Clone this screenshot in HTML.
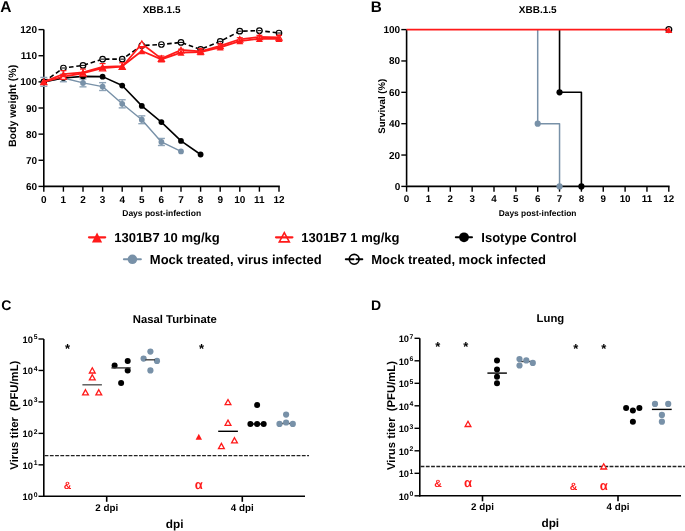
<!DOCTYPE html>
<html><head><meta charset="utf-8"><style>
html,body{margin:0;padding:0;background:#fff;}
body{width:685px;height:531px;overflow:hidden;}
svg{display:block;font-family:"Liberation Sans", sans-serif;will-change:transform;text-rendering:geometricPrecision;}
</style></head><body>
<svg width="685" height="531" viewBox="0 0 685 531">
<rect width="685" height="531" fill="#fff"/>
<text x="0.3" y="11.7" font-size="15.5" text-anchor="start" fill="#000" font-weight="bold" >A</text>
<text x="161.6" y="12.5" font-size="10" text-anchor="middle" fill="#000" font-weight="bold" >XBB.1.5</text>
<line x1="43.8" y1="29.6" x2="43.8" y2="187.15" stroke="#000" stroke-width="1.6" />
<line x1="43" y1="186.4" x2="279.8" y2="186.4" stroke="#000" stroke-width="1.6" />
<line x1="38.5" y1="186.4" x2="43.8" y2="186.4" stroke="#000" stroke-width="1.4" />
<text x="37" y="190" font-size="10" text-anchor="end" fill="#000" font-weight="bold" >60</text>
<line x1="38.5" y1="160.27" x2="43.8" y2="160.27" stroke="#000" stroke-width="1.4" />
<text x="37" y="163.87" font-size="10" text-anchor="end" fill="#000" font-weight="bold" >70</text>
<line x1="38.5" y1="134.13" x2="43.8" y2="134.13" stroke="#000" stroke-width="1.4" />
<text x="37" y="137.73" font-size="10" text-anchor="end" fill="#000" font-weight="bold" >80</text>
<line x1="38.5" y1="108" x2="43.8" y2="108" stroke="#000" stroke-width="1.4" />
<text x="37" y="111.6" font-size="10" text-anchor="end" fill="#000" font-weight="bold" >90</text>
<line x1="38.5" y1="81.87" x2="43.8" y2="81.87" stroke="#000" stroke-width="1.4" />
<text x="37" y="85.47" font-size="10" text-anchor="end" fill="#000" font-weight="bold" >100</text>
<line x1="38.5" y1="55.73" x2="43.8" y2="55.73" stroke="#000" stroke-width="1.4" />
<text x="37" y="59.33" font-size="10" text-anchor="end" fill="#000" font-weight="bold" >110</text>
<line x1="38.5" y1="29.6" x2="43.8" y2="29.6" stroke="#000" stroke-width="1.4" />
<text x="37" y="33.2" font-size="10" text-anchor="end" fill="#000" font-weight="bold" >120</text>
<line x1="43.8" y1="186.4" x2="43.8" y2="191.7" stroke="#000" stroke-width="1.4" />
<text x="43.8" y="202.6" font-size="10" text-anchor="middle" fill="#000" font-weight="bold" >0</text>
<line x1="63.4" y1="186.4" x2="63.4" y2="191.7" stroke="#000" stroke-width="1.4" />
<text x="63.4" y="202.6" font-size="10" text-anchor="middle" fill="#000" font-weight="bold" >1</text>
<line x1="83" y1="186.4" x2="83" y2="191.7" stroke="#000" stroke-width="1.4" />
<text x="83" y="202.6" font-size="10" text-anchor="middle" fill="#000" font-weight="bold" >2</text>
<line x1="102.6" y1="186.4" x2="102.6" y2="191.7" stroke="#000" stroke-width="1.4" />
<text x="102.6" y="202.6" font-size="10" text-anchor="middle" fill="#000" font-weight="bold" >3</text>
<line x1="122.2" y1="186.4" x2="122.2" y2="191.7" stroke="#000" stroke-width="1.4" />
<text x="122.2" y="202.6" font-size="10" text-anchor="middle" fill="#000" font-weight="bold" >4</text>
<line x1="141.8" y1="186.4" x2="141.8" y2="191.7" stroke="#000" stroke-width="1.4" />
<text x="141.8" y="202.6" font-size="10" text-anchor="middle" fill="#000" font-weight="bold" >5</text>
<line x1="161.4" y1="186.4" x2="161.4" y2="191.7" stroke="#000" stroke-width="1.4" />
<text x="161.4" y="202.6" font-size="10" text-anchor="middle" fill="#000" font-weight="bold" >6</text>
<line x1="181" y1="186.4" x2="181" y2="191.7" stroke="#000" stroke-width="1.4" />
<text x="181" y="202.6" font-size="10" text-anchor="middle" fill="#000" font-weight="bold" >7</text>
<line x1="200.6" y1="186.4" x2="200.6" y2="191.7" stroke="#000" stroke-width="1.4" />
<text x="200.6" y="202.6" font-size="10" text-anchor="middle" fill="#000" font-weight="bold" >8</text>
<line x1="220.2" y1="186.4" x2="220.2" y2="191.7" stroke="#000" stroke-width="1.4" />
<text x="220.2" y="202.6" font-size="10" text-anchor="middle" fill="#000" font-weight="bold" >9</text>
<line x1="239.8" y1="186.4" x2="239.8" y2="191.7" stroke="#000" stroke-width="1.4" />
<text x="239.8" y="202.6" font-size="10" text-anchor="middle" fill="#000" font-weight="bold" >10</text>
<line x1="259.4" y1="186.4" x2="259.4" y2="191.7" stroke="#000" stroke-width="1.4" />
<text x="259.4" y="202.6" font-size="10" text-anchor="middle" fill="#000" font-weight="bold" >11</text>
<line x1="279" y1="186.4" x2="279" y2="191.7" stroke="#000" stroke-width="1.4" />
<text x="279" y="202.6" font-size="10" text-anchor="middle" fill="#000" font-weight="bold" >12</text>
<text x="161.7" y="215.7" font-size="8.5" text-anchor="middle" fill="#000" font-weight="bold" >Days post-infection</text>
<text transform="translate(15.8,105.9) rotate(-90)" font-size="10.6" text-anchor="middle" font-weight="bold">Body weight (%)</text>
<line x1="43.8" y1="77.43" x2="43.8" y2="86.31" stroke="#8ea4b8" stroke-width="1.4" />
<line x1="40.3" y1="77.43" x2="47.3" y2="77.43" stroke="#8ea4b8" stroke-width="1.4" />
<line x1="40.3" y1="86.31" x2="47.3" y2="86.31" stroke="#8ea4b8" stroke-width="1.4" />
<line x1="63.4" y1="74.16" x2="63.4" y2="81.74" stroke="#8ea4b8" stroke-width="1.4" />
<line x1="59.9" y1="74.16" x2="66.9" y2="74.16" stroke="#8ea4b8" stroke-width="1.4" />
<line x1="59.9" y1="81.74" x2="66.9" y2="81.74" stroke="#8ea4b8" stroke-width="1.4" />
<line x1="83" y1="78.99" x2="83" y2="86.83" stroke="#8ea4b8" stroke-width="1.4" />
<line x1="79.5" y1="78.99" x2="86.5" y2="78.99" stroke="#8ea4b8" stroke-width="1.4" />
<line x1="79.5" y1="86.83" x2="86.5" y2="86.83" stroke="#8ea4b8" stroke-width="1.4" />
<line x1="102.6" y1="82.65" x2="102.6" y2="90.49" stroke="#8ea4b8" stroke-width="1.4" />
<line x1="99.1" y1="82.65" x2="106.1" y2="82.65" stroke="#8ea4b8" stroke-width="1.4" />
<line x1="99.1" y1="90.49" x2="106.1" y2="90.49" stroke="#8ea4b8" stroke-width="1.4" />
<line x1="122.2" y1="99.77" x2="122.2" y2="107.87" stroke="#8ea4b8" stroke-width="1.4" />
<line x1="118.7" y1="99.77" x2="125.7" y2="99.77" stroke="#8ea4b8" stroke-width="1.4" />
<line x1="118.7" y1="107.87" x2="125.7" y2="107.87" stroke="#8ea4b8" stroke-width="1.4" />
<line x1="141.8" y1="115.84" x2="141.8" y2="123.68" stroke="#8ea4b8" stroke-width="1.4" />
<line x1="138.3" y1="115.84" x2="145.3" y2="115.84" stroke="#8ea4b8" stroke-width="1.4" />
<line x1="138.3" y1="123.68" x2="145.3" y2="123.68" stroke="#8ea4b8" stroke-width="1.4" />
<line x1="161.4" y1="138.45" x2="161.4" y2="145.5" stroke="#8ea4b8" stroke-width="1.4" />
<line x1="157.9" y1="138.45" x2="164.9" y2="138.45" stroke="#8ea4b8" stroke-width="1.4" />
<line x1="157.9" y1="145.5" x2="164.9" y2="145.5" stroke="#8ea4b8" stroke-width="1.4" />
<polyline points="43.8,81.87 63.4,77.95 83,82.91 102.6,86.57 122.2,103.82 141.8,119.76 161.4,141.97 181,151.38" stroke="#7891a8" stroke-width="1.4" fill="none" stroke-linejoin="round" />
<circle cx="43.8" cy="81.87" r="2.9" fill="#7891a8" stroke="none" stroke-width="0"/>
<circle cx="63.4" cy="77.95" r="2.9" fill="#7891a8" stroke="none" stroke-width="0"/>
<circle cx="83" cy="82.91" r="2.9" fill="#7891a8" stroke="none" stroke-width="0"/>
<circle cx="102.6" cy="86.57" r="2.9" fill="#7891a8" stroke="none" stroke-width="0"/>
<circle cx="122.2" cy="103.82" r="2.9" fill="#7891a8" stroke="none" stroke-width="0"/>
<circle cx="141.8" cy="119.76" r="2.9" fill="#7891a8" stroke="none" stroke-width="0"/>
<circle cx="161.4" cy="141.97" r="2.9" fill="#7891a8" stroke="none" stroke-width="0"/>
<circle cx="181" cy="151.38" r="2.9" fill="#7891a8" stroke="none" stroke-width="0"/>
<polyline points="43.8,81.87 63.4,77.95 83,76.38 102.6,76.64 122.2,85.53 141.8,105.91 161.4,122.11 181,140.93 200.6,154.52" stroke="#000" stroke-width="1.6" fill="none" stroke-linejoin="round" />
<circle cx="43.8" cy="81.87" r="2.9" fill="#000" stroke="none" stroke-width="0"/>
<circle cx="63.4" cy="77.95" r="2.9" fill="#000" stroke="none" stroke-width="0"/>
<circle cx="83" cy="76.38" r="2.9" fill="#000" stroke="none" stroke-width="0"/>
<circle cx="102.6" cy="76.64" r="2.9" fill="#000" stroke="none" stroke-width="0"/>
<circle cx="122.2" cy="85.53" r="2.9" fill="#000" stroke="none" stroke-width="0"/>
<circle cx="141.8" cy="105.91" r="2.9" fill="#000" stroke="none" stroke-width="0"/>
<circle cx="161.4" cy="122.11" r="2.9" fill="#000" stroke="none" stroke-width="0"/>
<circle cx="181" cy="140.93" r="2.9" fill="#000" stroke="none" stroke-width="0"/>
<circle cx="200.6" cy="154.52" r="2.9" fill="#000" stroke="none" stroke-width="0"/>
<polyline points="43.8,81.87 63.4,68.02 83,65.4 102.6,59.13 122.2,59.13 141.8,45.54 161.4,44.5 181,42.41 200.6,49.46 220.2,41.36 239.8,31.17 259.4,30.65 279,33" stroke="#000" stroke-width="1.6" fill="none" stroke-linejoin="round" stroke-dasharray="4.6 2.8"/>
<circle cx="43.8" cy="81.87" r="2.75" fill="#fff" stroke="#000" stroke-width="1.2"/>
<circle cx="63.4" cy="68.02" r="2.75" fill="#fff" stroke="#000" stroke-width="1.2"/>
<circle cx="83" cy="65.4" r="2.75" fill="#fff" stroke="#000" stroke-width="1.2"/>
<circle cx="102.6" cy="59.13" r="2.75" fill="#fff" stroke="#000" stroke-width="1.2"/>
<circle cx="122.2" cy="59.13" r="2.75" fill="#fff" stroke="#000" stroke-width="1.2"/>
<circle cx="141.8" cy="45.54" r="2.75" fill="#fff" stroke="#000" stroke-width="1.2"/>
<circle cx="161.4" cy="44.5" r="2.75" fill="#fff" stroke="#000" stroke-width="1.2"/>
<circle cx="181" cy="42.41" r="2.75" fill="#fff" stroke="#000" stroke-width="1.2"/>
<circle cx="200.6" cy="49.46" r="2.75" fill="#fff" stroke="#000" stroke-width="1.2"/>
<circle cx="220.2" cy="41.36" r="2.75" fill="#fff" stroke="#000" stroke-width="1.2"/>
<circle cx="239.8" cy="31.17" r="2.75" fill="#fff" stroke="#000" stroke-width="1.2"/>
<circle cx="259.4" cy="30.65" r="2.75" fill="#fff" stroke="#000" stroke-width="1.2"/>
<circle cx="279" cy="33" r="2.75" fill="#fff" stroke="#000" stroke-width="1.2"/>
<line x1="41.8" y1="81.87" x2="45.8" y2="81.87" stroke="#000" stroke-width="1.0" />
<line x1="61.4" y1="68.02" x2="65.4" y2="68.02" stroke="#000" stroke-width="1.0" />
<line x1="81" y1="65.4" x2="85" y2="65.4" stroke="#000" stroke-width="1.0" />
<line x1="100.6" y1="59.13" x2="104.6" y2="59.13" stroke="#000" stroke-width="1.0" />
<line x1="120.2" y1="59.13" x2="124.2" y2="59.13" stroke="#000" stroke-width="1.0" />
<line x1="139.8" y1="45.54" x2="143.8" y2="45.54" stroke="#000" stroke-width="1.0" />
<line x1="159.4" y1="44.5" x2="163.4" y2="44.5" stroke="#000" stroke-width="1.0" />
<line x1="179" y1="42.41" x2="183" y2="42.41" stroke="#000" stroke-width="1.0" />
<line x1="198.6" y1="49.46" x2="202.6" y2="49.46" stroke="#000" stroke-width="1.0" />
<line x1="218.2" y1="41.36" x2="222.2" y2="41.36" stroke="#000" stroke-width="1.0" />
<line x1="237.8" y1="31.17" x2="241.8" y2="31.17" stroke="#000" stroke-width="1.0" />
<line x1="257.4" y1="30.65" x2="261.4" y2="30.65" stroke="#000" stroke-width="1.0" />
<line x1="277" y1="33" x2="281" y2="33" stroke="#000" stroke-width="1.0" />
<polyline points="43.8,81.87 63.4,76.64 83,73.24 102.6,68.02 122.2,66.71 141.8,43.71 161.4,58.61 181,49.99 200.6,51.29 220.2,45.8 239.8,39.27 259.4,36.92 279,37.44" stroke="#ff1a1a" stroke-width="1.8" fill="none" stroke-linejoin="round" />
<polygon points="43.8,79.07 46.9,84.67 40.7,84.67" fill="#fff" stroke="#ff1a1a" stroke-width="1.2" stroke-linejoin="miter"/>
<polygon points="63.4,73.84 66.5,79.44 60.3,79.44" fill="#fff" stroke="#ff1a1a" stroke-width="1.2" stroke-linejoin="miter"/>
<polygon points="83,70.44 86.1,76.04 79.9,76.04" fill="#fff" stroke="#ff1a1a" stroke-width="1.2" stroke-linejoin="miter"/>
<polygon points="102.6,65.22 105.7,70.82 99.5,70.82" fill="#fff" stroke="#ff1a1a" stroke-width="1.2" stroke-linejoin="miter"/>
<polygon points="122.2,63.91 125.3,69.51 119.1,69.51" fill="#fff" stroke="#ff1a1a" stroke-width="1.2" stroke-linejoin="miter"/>
<polygon points="141.8,40.91 144.9,46.51 138.7,46.51" fill="#fff" stroke="#ff1a1a" stroke-width="1.2" stroke-linejoin="miter"/>
<polygon points="161.4,55.81 164.5,61.41 158.3,61.41" fill="#fff" stroke="#ff1a1a" stroke-width="1.2" stroke-linejoin="miter"/>
<polygon points="181,47.19 184.1,52.79 177.9,52.79" fill="#fff" stroke="#ff1a1a" stroke-width="1.2" stroke-linejoin="miter"/>
<polygon points="200.6,48.49 203.7,54.09 197.5,54.09" fill="#fff" stroke="#ff1a1a" stroke-width="1.2" stroke-linejoin="miter"/>
<polygon points="220.2,43 223.3,48.6 217.1,48.6" fill="#fff" stroke="#ff1a1a" stroke-width="1.2" stroke-linejoin="miter"/>
<polygon points="239.8,36.47 242.9,42.07 236.7,42.07" fill="#fff" stroke="#ff1a1a" stroke-width="1.2" stroke-linejoin="miter"/>
<polygon points="259.4,34.12 262.5,39.72 256.3,39.72" fill="#fff" stroke="#ff1a1a" stroke-width="1.2" stroke-linejoin="miter"/>
<polygon points="279,34.64 282.1,40.24 275.9,40.24" fill="#fff" stroke="#ff1a1a" stroke-width="1.2" stroke-linejoin="miter"/>
<line x1="60.4" y1="70.63" x2="66.4" y2="70.63" stroke="#ff1a1a" stroke-width="1.2" />
<line x1="63.4" y1="70.63" x2="63.4" y2="74.03" stroke="#ff1a1a" stroke-width="1.2" />
<line x1="80" y1="69.06" x2="86" y2="69.06" stroke="#ff1a1a" stroke-width="1.2" />
<line x1="83" y1="69.06" x2="83" y2="72.46" stroke="#ff1a1a" stroke-width="1.2" />
<line x1="99.6" y1="63.57" x2="105.6" y2="63.57" stroke="#ff1a1a" stroke-width="1.2" />
<line x1="102.6" y1="63.57" x2="102.6" y2="66.97" stroke="#ff1a1a" stroke-width="1.2" />
<line x1="119.2" y1="62.79" x2="125.2" y2="62.79" stroke="#ff1a1a" stroke-width="1.2" />
<line x1="122.2" y1="62.79" x2="122.2" y2="66.19" stroke="#ff1a1a" stroke-width="1.2" />
<line x1="138.8" y1="47.63" x2="144.8" y2="47.63" stroke="#ff1a1a" stroke-width="1.2" />
<line x1="141.8" y1="47.63" x2="141.8" y2="51.03" stroke="#ff1a1a" stroke-width="1.2" />
<line x1="158.4" y1="56" x2="164.4" y2="56" stroke="#ff1a1a" stroke-width="1.2" />
<line x1="161.4" y1="56" x2="161.4" y2="59.39" stroke="#ff1a1a" stroke-width="1.2" />
<line x1="178" y1="49.2" x2="184" y2="49.2" stroke="#ff1a1a" stroke-width="1.2" />
<line x1="181" y1="49.2" x2="181" y2="52.6" stroke="#ff1a1a" stroke-width="1.2" />
<line x1="197.6" y1="48.68" x2="203.6" y2="48.68" stroke="#ff1a1a" stroke-width="1.2" />
<line x1="200.6" y1="48.68" x2="200.6" y2="52.08" stroke="#ff1a1a" stroke-width="1.2" />
<line x1="217.2" y1="43.98" x2="223.2" y2="43.98" stroke="#ff1a1a" stroke-width="1.2" />
<line x1="220.2" y1="43.98" x2="220.2" y2="47.37" stroke="#ff1a1a" stroke-width="1.2" />
<line x1="236.8" y1="37.7" x2="242.8" y2="37.7" stroke="#ff1a1a" stroke-width="1.2" />
<line x1="239.8" y1="37.7" x2="239.8" y2="41.1" stroke="#ff1a1a" stroke-width="1.2" />
<line x1="256.4" y1="35.35" x2="262.4" y2="35.35" stroke="#ff1a1a" stroke-width="1.2" />
<line x1="259.4" y1="35.35" x2="259.4" y2="38.75" stroke="#ff1a1a" stroke-width="1.2" />
<line x1="276" y1="35.35" x2="282" y2="35.35" stroke="#ff1a1a" stroke-width="1.2" />
<line x1="279" y1="35.35" x2="279" y2="38.75" stroke="#ff1a1a" stroke-width="1.2" />
<polyline points="43.8,81.87 63.4,74.03 83,72.46 102.6,66.97 122.2,66.19 141.8,51.03 161.4,59.39 181,52.6 200.6,52.08 220.2,47.37 239.8,41.1 259.4,38.75 279,38.75" stroke="#ff1a1a" stroke-width="1.8" fill="none" stroke-linejoin="round" />
<polygon points="43.8,78.67 47.3,85.07 40.3,85.07" fill="#ff1a1a" stroke="none" stroke-width="0" stroke-linejoin="miter"/>
<polygon points="63.4,70.83 66.9,77.23 59.9,77.23" fill="#ff1a1a" stroke="none" stroke-width="0" stroke-linejoin="miter"/>
<polygon points="83,69.26 86.5,75.66 79.5,75.66" fill="#ff1a1a" stroke="none" stroke-width="0" stroke-linejoin="miter"/>
<polygon points="102.6,63.77 106.1,70.17 99.1,70.17" fill="#ff1a1a" stroke="none" stroke-width="0" stroke-linejoin="miter"/>
<polygon points="122.2,62.99 125.7,69.39 118.7,69.39" fill="#ff1a1a" stroke="none" stroke-width="0" stroke-linejoin="miter"/>
<polygon points="141.8,47.83 145.3,54.23 138.3,54.23" fill="#ff1a1a" stroke="none" stroke-width="0" stroke-linejoin="miter"/>
<polygon points="161.4,56.19 164.9,62.59 157.9,62.59" fill="#ff1a1a" stroke="none" stroke-width="0" stroke-linejoin="miter"/>
<polygon points="181,49.4 184.5,55.8 177.5,55.8" fill="#ff1a1a" stroke="none" stroke-width="0" stroke-linejoin="miter"/>
<polygon points="200.6,48.88 204.1,55.28 197.1,55.28" fill="#ff1a1a" stroke="none" stroke-width="0" stroke-linejoin="miter"/>
<polygon points="220.2,44.17 223.7,50.57 216.7,50.57" fill="#ff1a1a" stroke="none" stroke-width="0" stroke-linejoin="miter"/>
<polygon points="239.8,37.9 243.3,44.3 236.3,44.3" fill="#ff1a1a" stroke="none" stroke-width="0" stroke-linejoin="miter"/>
<polygon points="259.4,35.55 262.9,41.95 255.9,41.95" fill="#ff1a1a" stroke="none" stroke-width="0" stroke-linejoin="miter"/>
<polygon points="279,35.55 282.5,41.95 275.5,41.95" fill="#ff1a1a" stroke="none" stroke-width="0" stroke-linejoin="miter"/>
<text x="370.7" y="11.6" font-size="15.3" text-anchor="start" fill="#000" font-weight="bold" >B</text>
<text x="537.7" y="12.5" font-size="10" text-anchor="middle" fill="#000" font-weight="bold" >XBB.1.5</text>
<polyline points="537.7,29.6 537.7,123.68 559.55,123.68 559.55,186.4" stroke="#7891a8" stroke-width="1.5" fill="none" stroke-linejoin="round" stroke-linejoin="miter"/>
<polyline points="559.55,29.6 559.55,92.32 581.4,92.32 581.4,186.4" stroke="#000" stroke-width="1.6" fill="none" stroke-linejoin="round" stroke-linejoin="miter"/>
<line x1="406.6" y1="185.65" x2="406.6" y2="29.6" stroke="#000" stroke-width="1.6" />
<line x1="405.8" y1="186.4" x2="669.6" y2="186.4" stroke="#000" stroke-width="1.6" />
<line x1="401.3" y1="186.4" x2="406.6" y2="186.4" stroke="#000" stroke-width="1.4" />
<text x="400.2" y="189.9" font-size="10" text-anchor="end" fill="#000" font-weight="bold" >0</text>
<line x1="401.3" y1="155.04" x2="406.6" y2="155.04" stroke="#000" stroke-width="1.4" />
<text x="400.2" y="158.54" font-size="10" text-anchor="end" fill="#000" font-weight="bold" >20</text>
<line x1="401.3" y1="123.68" x2="406.6" y2="123.68" stroke="#000" stroke-width="1.4" />
<text x="400.2" y="127.18" font-size="10" text-anchor="end" fill="#000" font-weight="bold" >40</text>
<line x1="401.3" y1="92.32" x2="406.6" y2="92.32" stroke="#000" stroke-width="1.4" />
<text x="400.2" y="95.82" font-size="10" text-anchor="end" fill="#000" font-weight="bold" >60</text>
<line x1="401.3" y1="60.96" x2="406.6" y2="60.96" stroke="#000" stroke-width="1.4" />
<text x="400.2" y="64.46" font-size="10" text-anchor="end" fill="#000" font-weight="bold" >80</text>
<line x1="401.3" y1="29.6" x2="406.6" y2="29.6" stroke="#000" stroke-width="1.4" />
<text x="400.2" y="33.1" font-size="10" text-anchor="end" fill="#000" font-weight="bold" >100</text>
<line x1="406.6" y1="186.4" x2="406.6" y2="191.7" stroke="#000" stroke-width="1.4" />
<text x="406.6" y="201.7" font-size="9.8" text-anchor="middle" fill="#000" font-weight="bold" >0</text>
<line x1="428.45" y1="186.4" x2="428.45" y2="191.7" stroke="#000" stroke-width="1.4" />
<text x="428.45" y="201.7" font-size="9.8" text-anchor="middle" fill="#000" font-weight="bold" >1</text>
<line x1="450.3" y1="186.4" x2="450.3" y2="191.7" stroke="#000" stroke-width="1.4" />
<text x="450.3" y="201.7" font-size="9.8" text-anchor="middle" fill="#000" font-weight="bold" >2</text>
<line x1="472.15" y1="186.4" x2="472.15" y2="191.7" stroke="#000" stroke-width="1.4" />
<text x="472.15" y="201.7" font-size="9.8" text-anchor="middle" fill="#000" font-weight="bold" >3</text>
<line x1="494" y1="186.4" x2="494" y2="191.7" stroke="#000" stroke-width="1.4" />
<text x="494" y="201.7" font-size="9.8" text-anchor="middle" fill="#000" font-weight="bold" >4</text>
<line x1="515.85" y1="186.4" x2="515.85" y2="191.7" stroke="#000" stroke-width="1.4" />
<text x="515.85" y="201.7" font-size="9.8" text-anchor="middle" fill="#000" font-weight="bold" >5</text>
<line x1="537.7" y1="186.4" x2="537.7" y2="191.7" stroke="#000" stroke-width="1.4" />
<text x="537.7" y="201.7" font-size="9.8" text-anchor="middle" fill="#000" font-weight="bold" >6</text>
<line x1="559.55" y1="186.4" x2="559.55" y2="191.7" stroke="#000" stroke-width="1.4" />
<text x="559.55" y="201.7" font-size="9.8" text-anchor="middle" fill="#000" font-weight="bold" >7</text>
<line x1="581.4" y1="186.4" x2="581.4" y2="191.7" stroke="#000" stroke-width="1.4" />
<text x="581.4" y="201.7" font-size="9.8" text-anchor="middle" fill="#000" font-weight="bold" >8</text>
<line x1="603.25" y1="186.4" x2="603.25" y2="191.7" stroke="#000" stroke-width="1.4" />
<text x="603.25" y="201.7" font-size="9.8" text-anchor="middle" fill="#000" font-weight="bold" >9</text>
<line x1="625.1" y1="186.4" x2="625.1" y2="191.7" stroke="#000" stroke-width="1.4" />
<text x="625.1" y="201.7" font-size="9.8" text-anchor="middle" fill="#000" font-weight="bold" >10</text>
<line x1="646.95" y1="186.4" x2="646.95" y2="191.7" stroke="#000" stroke-width="1.4" />
<text x="646.95" y="201.7" font-size="9.8" text-anchor="middle" fill="#000" font-weight="bold" >11</text>
<line x1="668.8" y1="186.4" x2="668.8" y2="191.7" stroke="#000" stroke-width="1.4" />
<text x="668.8" y="201.7" font-size="9.8" text-anchor="middle" fill="#000" font-weight="bold" >12</text>
<text x="537.6" y="215.5" font-size="8.4" text-anchor="middle" fill="#000" font-weight="bold" >Days post-infection</text>
<text transform="translate(385.2,106.3) rotate(-90)" font-size="9.6" text-anchor="middle" font-weight="bold">Survival (%)</text>
<circle cx="537.7" cy="123.68" r="3.1" fill="#7891a8" stroke="none" stroke-width="0"/>
<circle cx="559.55" cy="186.4" r="3.1" fill="#7891a8" stroke="none" stroke-width="0"/>
<circle cx="559.55" cy="92.32" r="3.1" fill="#000" stroke="none" stroke-width="0"/>
<circle cx="581.4" cy="186.4" r="3.1" fill="#000" stroke="none" stroke-width="0"/>
<circle cx="668.8" cy="29.6" r="2.9" fill="#fff" stroke="#000" stroke-width="1.3"/>
<line x1="406.6" y1="29.6" x2="668.8" y2="29.6" stroke="#ff1a1a" stroke-width="1.6" />
<polygon points="668.8,27.1 672.4,33.1 665.2,33.1" fill="#ff1a1a" stroke="none" stroke-width="0" stroke-linejoin="miter"/>
<line x1="89" y1="237.3" x2="105.2" y2="237.3" stroke="#ff1a1a" stroke-width="2.2" stroke-linecap="round" />
<polygon points="97.05,232.6 102.15,242.6 91.95,242.6" fill="#ff1a1a" stroke="none" stroke-width="0" stroke-linejoin="miter"/>
<text x="114.2" y="242.3" font-size="13" text-anchor="start" fill="#000" font-weight="bold" >1301B7 10 mg/kg</text>
<line x1="276" y1="237.3" x2="292.4" y2="237.3" stroke="#ff1a1a" stroke-width="2.2" stroke-linecap="round" />
<polygon points="284.3,232.7 289.3,241.9 279.3,241.9" fill="none" stroke="#ff1a1a" stroke-width="1.6" stroke-linejoin="miter"/>
<text x="301.2" y="242.3" font-size="13" text-anchor="start" fill="#000" font-weight="bold" >1301B7 1 mg/kg</text>
<line x1="455.8" y1="237.3" x2="472" y2="237.3" stroke="#000" stroke-width="2.0" stroke-linecap="round" />
<circle cx="464" cy="237.3" r="4.9" fill="#000" stroke="none" stroke-width="0"/>
<text x="481.3" y="242.3" font-size="13" text-anchor="start" fill="#000" font-weight="bold" >Isotype Control</text>
<line x1="123.9" y1="259.3" x2="140.9" y2="259.3" stroke="#7891a8" stroke-width="2.0" stroke-linecap="round" />
<circle cx="132.4" cy="259.3" r="4.8" fill="#7891a8" stroke="none" stroke-width="0"/>
<text x="149.8" y="263.6" font-size="13" text-anchor="start" fill="#000" font-weight="bold" >Mock treated, virus infected</text>
<line x1="345.8" y1="259.3" x2="353.5" y2="259.3" stroke="#000" stroke-width="2.0" stroke-linecap="round" />
<line x1="356.5" y1="259.3" x2="362.3" y2="259.3" stroke="#000" stroke-width="2.0" stroke-linecap="round" />
<circle cx="354.2" cy="259.3" r="4.9" fill="none" stroke="#000" stroke-width="1.6"/>
<text x="371.2" y="263.6" font-size="13" text-anchor="start" fill="#000" font-weight="bold" >Mock treated, mock infected</text>
<text x="1.3" y="309.6" font-size="14" text-anchor="start" fill="#000" font-weight="bold" >C</text>
<text x="174.8" y="322.9" font-size="11.3" text-anchor="middle" fill="#000" font-weight="bold" >Nasal Turbinate</text>
<line x1="43.8" y1="339" x2="43.8" y2="497.05" stroke="#000" stroke-width="1.6" />
<line x1="43" y1="496.3" x2="305" y2="496.3" stroke="#000" stroke-width="1.6" />
<line x1="38.5" y1="496.3" x2="43.8" y2="496.3" stroke="#000" stroke-width="1.4" />
<text x="32.9" y="500.25" font-size="9.3" text-anchor="end" font-weight="bold">10</text>
<text x="33.8" y="496.6" font-size="6.8" text-anchor="start" font-weight="bold">0</text>
<line x1="38.5" y1="464.84" x2="43.8" y2="464.84" stroke="#000" stroke-width="1.4" />
<text x="32.9" y="468.79" font-size="9.3" text-anchor="end" font-weight="bold">10</text>
<text x="33.8" y="465.14" font-size="6.8" text-anchor="start" font-weight="bold">1</text>
<line x1="38.5" y1="433.38" x2="43.8" y2="433.38" stroke="#000" stroke-width="1.4" />
<text x="32.9" y="437.33" font-size="9.3" text-anchor="end" font-weight="bold">10</text>
<text x="33.8" y="433.68" font-size="6.8" text-anchor="start" font-weight="bold">2</text>
<line x1="38.5" y1="401.92" x2="43.8" y2="401.92" stroke="#000" stroke-width="1.4" />
<text x="32.9" y="405.87" font-size="9.3" text-anchor="end" font-weight="bold">10</text>
<text x="33.8" y="402.22" font-size="6.8" text-anchor="start" font-weight="bold">3</text>
<line x1="38.5" y1="370.46" x2="43.8" y2="370.46" stroke="#000" stroke-width="1.4" />
<text x="32.9" y="374.41" font-size="9.3" text-anchor="end" font-weight="bold">10</text>
<text x="33.8" y="370.76" font-size="6.8" text-anchor="start" font-weight="bold">4</text>
<line x1="38.5" y1="339" x2="43.8" y2="339" stroke="#000" stroke-width="1.4" />
<text x="32.9" y="342.95" font-size="9.3" text-anchor="end" font-weight="bold">10</text>
<text x="33.8" y="339.3" font-size="6.8" text-anchor="start" font-weight="bold">5</text>
<line x1="106.7" y1="496.3" x2="106.7" y2="501.8" stroke="#000" stroke-width="1.6" />
<text x="106.7" y="510.9" font-size="9.8" text-anchor="middle" fill="#000" font-weight="bold" >2 dpi</text>
<line x1="242.3" y1="496.3" x2="242.3" y2="501.8" stroke="#000" stroke-width="1.6" />
<text x="242.3" y="510.9" font-size="9.8" text-anchor="middle" fill="#000" font-weight="bold" >4 dpi</text>
<text x="174.7" y="528" font-size="11.8" text-anchor="middle" fill="#000" font-weight="bold" >dpi</text>
<text transform="translate(18.4,415.2) rotate(-90)" font-size="11.3" text-anchor="middle" font-weight="bold" xml:space="preserve">Virus titer  (PFU/mL)</text>
<line x1="44.6" y1="455.6" x2="309" y2="455.6" stroke="#222" stroke-width="1.3" stroke-dasharray="3.8 1.45"/>
<text x="67.6" y="353.3" font-size="13" text-anchor="middle" font-weight="bold">*</text>
<line x1="82.4" y1="384.8" x2="101.9" y2="384.8" stroke="#555" stroke-width="1.4" />
<polygon points="92.3,367.8 95.2,373 89.4,373" fill="#fff" stroke="#ff1a1a" stroke-width="1.3" stroke-linejoin="miter"/>
<polygon points="92.3,374.7 95.2,379.9 89.4,379.9" fill="#fff" stroke="#ff1a1a" stroke-width="1.3" stroke-linejoin="miter"/>
<polygon points="85.5,389.7 88.4,394.9 82.6,394.9" fill="#fff" stroke="#ff1a1a" stroke-width="1.3" stroke-linejoin="miter"/>
<polygon points="98.8,389.7 101.7,394.9 95.9,394.9" fill="#fff" stroke="#ff1a1a" stroke-width="1.3" stroke-linejoin="miter"/>
<circle cx="114.6" cy="365.5" r="3" fill="#000" stroke="none" stroke-width="0"/>
<circle cx="127.7" cy="361.1" r="3" fill="#000" stroke="none" stroke-width="0"/>
<circle cx="127.7" cy="370.4" r="3" fill="#000" stroke="none" stroke-width="0"/>
<circle cx="121.1" cy="383" r="3" fill="#000" stroke="none" stroke-width="0"/>
<line x1="111.4" y1="367.9" x2="130.7" y2="367.9" stroke="#333" stroke-width="1.4" />
<circle cx="150.4" cy="351.6" r="3.1" fill="#7891a8" stroke="none" stroke-width="0"/>
<circle cx="143.6" cy="358.6" r="3.1" fill="#7891a8" stroke="none" stroke-width="0"/>
<circle cx="157" cy="360.9" r="3.1" fill="#7891a8" stroke="none" stroke-width="0"/>
<circle cx="150.4" cy="370.4" r="3.1" fill="#7891a8" stroke="none" stroke-width="0"/>
<line x1="145.3" y1="359.8" x2="155" y2="359.8" stroke="#444" stroke-width="1.4" />
<text x="67.6" y="489.2" font-size="10.5" text-anchor="middle" font-weight="bold" fill="#ff1a1a">&amp;</text>
<text x="201.6" y="353.3" font-size="13" text-anchor="middle" font-weight="bold">*</text>
<polygon points="198.8,433.8 202,439.8 195.6,439.8" fill="#ff1a1a" stroke="none" stroke-width="0" stroke-linejoin="miter"/>
<polygon points="228,399.5 230.9,404.7 225.1,404.7" fill="#fff" stroke="#ff1a1a" stroke-width="1.3" stroke-linejoin="miter"/>
<polygon points="228,420.1 230.9,425.3 225.1,425.3" fill="#fff" stroke="#ff1a1a" stroke-width="1.3" stroke-linejoin="miter"/>
<polygon points="234.5,437.7 237.4,442.9 231.6,442.9" fill="#fff" stroke="#ff1a1a" stroke-width="1.3" stroke-linejoin="miter"/>
<polygon points="221.4,443.4 224.3,448.6 218.5,448.6" fill="#fff" stroke="#ff1a1a" stroke-width="1.3" stroke-linejoin="miter"/>
<line x1="218.2" y1="431.3" x2="237.9" y2="431.3" stroke="#000" stroke-width="1.4" />
<line x1="249" y1="424" x2="265" y2="424" stroke="#000" stroke-width="1.4" />
<circle cx="257.1" cy="405.1" r="3" fill="#000" stroke="none" stroke-width="0"/>
<circle cx="250.4" cy="423.9" r="3" fill="#000" stroke="none" stroke-width="0"/>
<circle cx="257.1" cy="423.9" r="3" fill="#000" stroke="none" stroke-width="0"/>
<circle cx="263.7" cy="423.9" r="3" fill="#000" stroke="none" stroke-width="0"/>
<line x1="278" y1="423.5" x2="294" y2="423.5" stroke="#444" stroke-width="1.4" />
<circle cx="286.1" cy="414.6" r="3.1" fill="#7891a8" stroke="none" stroke-width="0"/>
<circle cx="279.5" cy="423.9" r="3.1" fill="#7891a8" stroke="none" stroke-width="0"/>
<circle cx="286.1" cy="422.5" r="3.1" fill="#7891a8" stroke="none" stroke-width="0"/>
<circle cx="292.8" cy="423.9" r="3.1" fill="#7891a8" stroke="none" stroke-width="0"/>
<text x="198.7" y="488.7" font-size="13" text-anchor="middle" font-weight="bold" fill="#ff1a1a">α</text>
<text x="371" y="309.6" font-size="14" text-anchor="start" fill="#000" font-weight="bold" >D</text>
<text x="550.4" y="322" font-size="11.3" text-anchor="middle" fill="#000" font-weight="bold" >Lung</text>
<line x1="419.8" y1="338.3" x2="419.8" y2="496.55" stroke="#000" stroke-width="1.6" />
<line x1="419" y1="495.8" x2="681" y2="495.8" stroke="#000" stroke-width="1.6" />
<line x1="414.5" y1="495.8" x2="419.8" y2="495.8" stroke="#000" stroke-width="1.4" />
<text x="409.0" y="499.75" font-size="9.3" text-anchor="end" font-weight="bold">10</text>
<text x="409.5" y="496.1" font-size="6.8" text-anchor="start" font-weight="bold">0</text>
<line x1="414.5" y1="473.3" x2="419.8" y2="473.3" stroke="#000" stroke-width="1.4" />
<text x="409.0" y="477.25" font-size="9.3" text-anchor="end" font-weight="bold">10</text>
<text x="409.5" y="473.6" font-size="6.8" text-anchor="start" font-weight="bold">1</text>
<line x1="414.5" y1="450.8" x2="419.8" y2="450.8" stroke="#000" stroke-width="1.4" />
<text x="409.0" y="454.75" font-size="9.3" text-anchor="end" font-weight="bold">10</text>
<text x="409.5" y="451.1" font-size="6.8" text-anchor="start" font-weight="bold">2</text>
<line x1="414.5" y1="428.3" x2="419.8" y2="428.3" stroke="#000" stroke-width="1.4" />
<text x="409.0" y="432.25" font-size="9.3" text-anchor="end" font-weight="bold">10</text>
<text x="409.5" y="428.6" font-size="6.8" text-anchor="start" font-weight="bold">3</text>
<line x1="414.5" y1="405.8" x2="419.8" y2="405.8" stroke="#000" stroke-width="1.4" />
<text x="409.0" y="409.75" font-size="9.3" text-anchor="end" font-weight="bold">10</text>
<text x="409.5" y="406.1" font-size="6.8" text-anchor="start" font-weight="bold">4</text>
<line x1="414.5" y1="383.3" x2="419.8" y2="383.3" stroke="#000" stroke-width="1.4" />
<text x="409.0" y="387.25" font-size="9.3" text-anchor="end" font-weight="bold">10</text>
<text x="409.5" y="383.6" font-size="6.8" text-anchor="start" font-weight="bold">5</text>
<line x1="414.5" y1="360.8" x2="419.8" y2="360.8" stroke="#000" stroke-width="1.4" />
<text x="409.0" y="364.75" font-size="9.3" text-anchor="end" font-weight="bold">10</text>
<text x="409.5" y="361.1" font-size="6.8" text-anchor="start" font-weight="bold">6</text>
<line x1="414.5" y1="338.3" x2="419.8" y2="338.3" stroke="#000" stroke-width="1.4" />
<text x="409.0" y="342.25" font-size="9.3" text-anchor="end" font-weight="bold">10</text>
<text x="409.5" y="338.6" font-size="6.8" text-anchor="start" font-weight="bold">7</text>
<line x1="482.5" y1="495.8" x2="482.5" y2="501.3" stroke="#000" stroke-width="1.6" />
<text x="482.5" y="510.4" font-size="9.8" text-anchor="middle" fill="#000" font-weight="bold" >2 dpi</text>
<line x1="618" y1="495.8" x2="618" y2="501.3" stroke="#000" stroke-width="1.6" />
<text x="618" y="510.4" font-size="9.8" text-anchor="middle" fill="#000" font-weight="bold" >4 dpi</text>
<text x="550.3" y="527.1" font-size="11.8" text-anchor="middle" fill="#000" font-weight="bold" >dpi</text>
<text transform="translate(394.5,415.5) rotate(-90)" font-size="11.3" text-anchor="middle" font-weight="bold" xml:space="preserve">Virus titer  (PFU/mL)</text>
<line x1="420.6" y1="466.5" x2="685" y2="466.5" stroke="#222" stroke-width="1.3" stroke-dasharray="3.8 1.45"/>
<text x="437.8" y="350.9" font-size="13" text-anchor="middle" font-weight="bold">*</text>
<text x="465.8" y="350.9" font-size="13" text-anchor="middle" font-weight="bold">*</text>
<polygon points="468,421.3 470.9,426.5 465.1,426.5" fill="#fff" stroke="#ff1a1a" stroke-width="1.3" stroke-linejoin="miter"/>
<circle cx="497" cy="360.4" r="3" fill="#000" stroke="none" stroke-width="0"/>
<circle cx="497" cy="369.6" r="3" fill="#000" stroke="none" stroke-width="0"/>
<circle cx="497" cy="376.8" r="3" fill="#000" stroke="none" stroke-width="0"/>
<circle cx="497" cy="383.3" r="3" fill="#000" stroke="none" stroke-width="0"/>
<line x1="487.4" y1="373.1" x2="506.9" y2="373.1" stroke="#000" stroke-width="1.4" />
<line x1="518" y1="361.5" x2="533" y2="361.5" stroke="#444" stroke-width="1.4" />
<circle cx="519.5" cy="359" r="3.1" fill="#7891a8" stroke="none" stroke-width="0"/>
<circle cx="519.5" cy="365.5" r="3.1" fill="#7891a8" stroke="none" stroke-width="0"/>
<circle cx="526.3" cy="360.4" r="3.1" fill="#7891a8" stroke="none" stroke-width="0"/>
<circle cx="532.8" cy="362.9" r="3.1" fill="#7891a8" stroke="none" stroke-width="0"/>
<text x="438" y="487.4" font-size="10.5" text-anchor="middle" font-weight="bold" fill="#ff1a1a">&amp;</text>
<text x="468" y="487.2" font-size="13" text-anchor="middle" font-weight="bold" fill="#ff1a1a">α</text>
<text x="575.7" y="352.5" font-size="13" text-anchor="middle" font-weight="bold">*</text>
<text x="603.7" y="352.5" font-size="13" text-anchor="middle" font-weight="bold">*</text>
<polygon points="603.7,463.8 606.6,469 600.8,469" fill="#fff" stroke="#ff1a1a" stroke-width="1.3" stroke-linejoin="miter"/>
<circle cx="626.1" cy="408" r="3" fill="#000" stroke="none" stroke-width="0"/>
<circle cx="632.9" cy="410.4" r="3" fill="#000" stroke="none" stroke-width="0"/>
<circle cx="639.4" cy="408" r="3" fill="#000" stroke="none" stroke-width="0"/>
<circle cx="632.9" cy="421.7" r="3" fill="#000" stroke="none" stroke-width="0"/>
<circle cx="655" cy="403.9" r="3.1" fill="#7891a8" stroke="none" stroke-width="0"/>
<circle cx="668.2" cy="403.9" r="3.1" fill="#7891a8" stroke="none" stroke-width="0"/>
<circle cx="661.9" cy="414.9" r="3.1" fill="#7891a8" stroke="none" stroke-width="0"/>
<circle cx="661.9" cy="421.7" r="3.1" fill="#7891a8" stroke="none" stroke-width="0"/>
<line x1="651.9" y1="409.4" x2="671.7" y2="409.4" stroke="#000" stroke-width="1.4" />
<text x="573.6" y="489.9" font-size="10.5" text-anchor="middle" font-weight="bold" fill="#ff1a1a">&amp;</text>
<text x="603.7" y="489.7" font-size="13" text-anchor="middle" font-weight="bold" fill="#ff1a1a">α</text>
</svg>
</body></html>
